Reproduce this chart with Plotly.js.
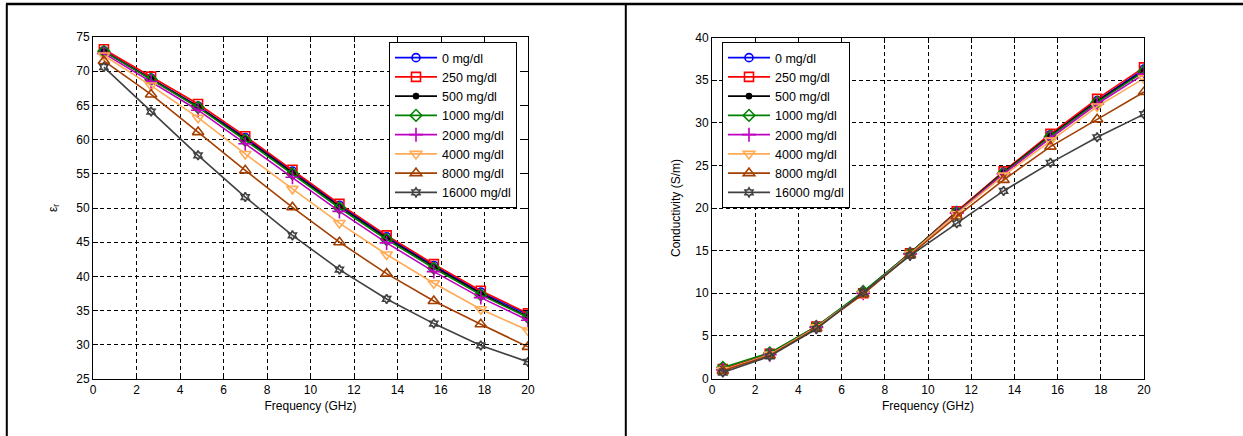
<!DOCTYPE html>
<html>
<head>
<meta charset="utf-8">
<script src="https://cdn.plot.ly/plotly-3.0.1.min.js"></script>
<style>
  html, body { margin: 0; padding: 0; background: #fff; }
  #chart { width: 1243px; height: 436px; }
</style>
</head>
<body>
<div id="chart"></div>
<script>
// ---- data ----
const freq = [0.5, 2.67, 4.83, 7, 9.17, 11.33, 13.5, 15.67, 17.83, 20];
const seriesNames = ["0 mg/dl", "250 mg/dl", "500 mg/dl", "1000 mg/dl", "2000 mg/dl", "4000 mg/dl", "8000 mg/dl", "16000 mg/dl"];

// relative permittivity (left)
const eps0     = [73.0, 69.0, 64.9, 60.3, 55.4, 50.4, 45.8, 41.6, 37.7, 34.4];
const eps250   = [73.2, 69.2, 65.2, 60.5, 55.6, 50.6, 46.0, 41.8, 37.9, 34.6];
const eps500   = [72.9, 68.9, 64.8, 60.1, 55.2, 50.2, 45.6, 41.4, 37.5, 34.1];
const eps1000  = [72.9, 68.8, 64.7, 59.9, 55.0, 50.0, 45.4, 41.2, 37.3, 34.0];
const eps2000  = [72.6, 68.5, 64.3, 59.4, 54.5, 49.5, 44.9, 40.7, 36.9, 33.6];
const eps4000  = [72.3, 67.9, 63.2, 57.9, 52.8, 47.8, 43.2, 39.0, 35.2, 32.1];
const eps8000  = [71.5, 66.6, 61.1, 55.5, 50.1, 45.0, 40.4, 36.4, 33.0, 29.7];
const eps16000 = [70.6, 64.1, 57.7, 51.6, 46.0, 41.0, 36.7, 33.1, 29.9, 27.5];

// conductivity S/m (right)
const sig0     = [1.0, 2.8, 6.0, 10.1, 14.7, 19.5, 24.2, 28.6, 32.6, 36.3];
const sig250   = [1.1, 2.9, 6.1, 10.0, 14.7, 19.6, 24.3, 28.7, 32.8, 36.5];
const sig500   = [1.0, 2.8, 6.0, 10.1, 14.7, 19.5, 24.2, 28.5, 32.5, 36.1];
const sig1000  = [1.3, 3.0, 6.1, 10.2, 14.7, 19.5, 24.1, 28.4, 32.4, 36.0];
const sig2000  = [1.0, 2.8, 6.0, 10.0, 14.6, 19.4, 24.0, 28.2, 32.2, 35.7];
const sig4000  = [1.0, 2.8, 6.0, 10.0, 14.6, 19.3, 23.8, 27.9, 31.9, 35.2];
const sig8000  = [0.9, 2.7, 5.9, 9.9, 14.5, 19.0, 23.3, 27.2, 30.4, 33.6];
const sig16000 = [0.7, 2.6, 5.8, 10.1, 14.4, 18.2, 22.0, 25.3, 28.3, 31.0];

const epsSeries = [eps0, eps250, eps500, eps1000, eps2000, eps4000, eps8000, eps16000];
const sigSeries = [sig0, sig250, sig500, sig1000, sig2000, sig4000, sig8000, sig16000];

// ---- styles ----
const colors  = ["#0000ff", "#ff0000", "#000000", "#008000", "#bf00bf", "#ffaa55", "#a33f00", "#404040"];
const symbols = ["circle-open", "square-open", "circle", "diamond-open", "cross-thin-open", "triangle-down-open", "triangle-up-open", "hexagram-open"];
const sizes   = [8, 9, 5, 9, 10, 10, 10, 7];

const narrow = "Liberation Sans Narrow, Arial Narrow, Liberation Sans, Arial, sans-serif";
const sans = "Liberation Sans, Arial, sans-serif";

const traces = [];
function addSet(data, xa, ya, leg) {
  data.forEach((ys, i) => {
    traces.push({
      x: freq, y: ys, name: seriesNames[i],
      xaxis: xa, yaxis: ya, legend: leg,
      mode: "lines+markers", type: "scatter",
      line: { color: colors[i], width: 1.6 },
      marker: { symbol: symbols[i], size: sizes[i], color: colors[i],
                line: { color: colors[i], width: 1.6 } }
    });
  });
}
addSet(epsSeries, "x", "y", "legend");
addSet(sigSeries, "x2", "y2", "legend2");

function xax(domain, anchor) {
  return {
    domain: domain, anchor: anchor, range: [0, 20], tick0: 0, dtick: 2,
    showgrid: true, gridcolor: "#000", griddash: "4px,3px", gridwidth: 1,
    zeroline: false, showline: true, linecolor: "#000", linewidth: 1, mirror: "ticks",
    ticks: "inside", ticklen: 5, tickcolor: "#000",
    tickfont: { family: narrow, size: 12, color: "#000" },
    title: { text: "Frequency (GHz)", font: { family: narrow, size: 12, color: "#000" }, standoff: 5 }
  };
}
function yax(domain, anchor, range, titleText, standoff) {
  return {
    domain: domain, anchor: anchor, range: range, dtick: 5,
    showgrid: true, gridcolor: "#000", griddash: "4px,3px", gridwidth: 1,
    zeroline: false, showline: true, linecolor: "#000", linewidth: 1, mirror: "ticks",
    ticks: "inside", ticklen: 5, tickcolor: "#000",
    tickfont: { family: narrow, size: 12, color: "#000" },
    title: { text: titleText, font: { family: narrow, size: 12, color: "#000" }, standoff: standoff }
  };
}

const W = 1243, H = 436;
const px = v => v / W;
const py = v => 1 - v / H;

const legendStyle = {
  xanchor: "left", yanchor: "top",
  bgcolor: "#fff", bordercolor: "#000", borderwidth: 1,
  itemwidth: 42,
  font: { family: sans, size: 12.5, color: "#000" }, tracegroupgap: 0
};

const layout = {
  width: W, height: H,
  margin: { l: 0, r: 0, t: 0, b: 0 },
  paper_bgcolor: "#fff", plot_bgcolor: "#fff",
  xaxis: xax([px(93), px(528)], "y"),
  yaxis: yax([py(379), py(37)], "x", [25, 75], "ε<sub>r</sub>", 16),
  xaxis2: xax([px(712), px(1144)], "y2"),
  yaxis2: yax([py(378.5), py(37.5)], "x2", [0, 40], "Conductivity (S/m)", 12),
  legend: Object.assign({ x: px(389), y: py(42) }, legendStyle),
  legend2: Object.assign({ x: px(722), y: py(42) }, legendStyle),
  shapes: [
    { type: "line", xref: "paper", yref: "paper", x0: px(6), x1: 1, y0: py(4), y1: py(4), line: { color: "#000", width: 2.5 } },
    { type: "line", xref: "paper", yref: "paper", x0: px(6.8), x1: px(6.8), y0: py(4), y1: 0, line: { color: "#000", width: 2 } },
    { type: "line", xref: "paper", yref: "paper", x0: px(625.8), x1: px(625.8), y0: py(4), y1: 0, line: { color: "#000", width: 2 } }
  ],
  showlegend: true
};

Plotly.newPlot("chart", traces, layout, { staticPlot: true, displayModeBar: false });
</script>
</body>
</html>
